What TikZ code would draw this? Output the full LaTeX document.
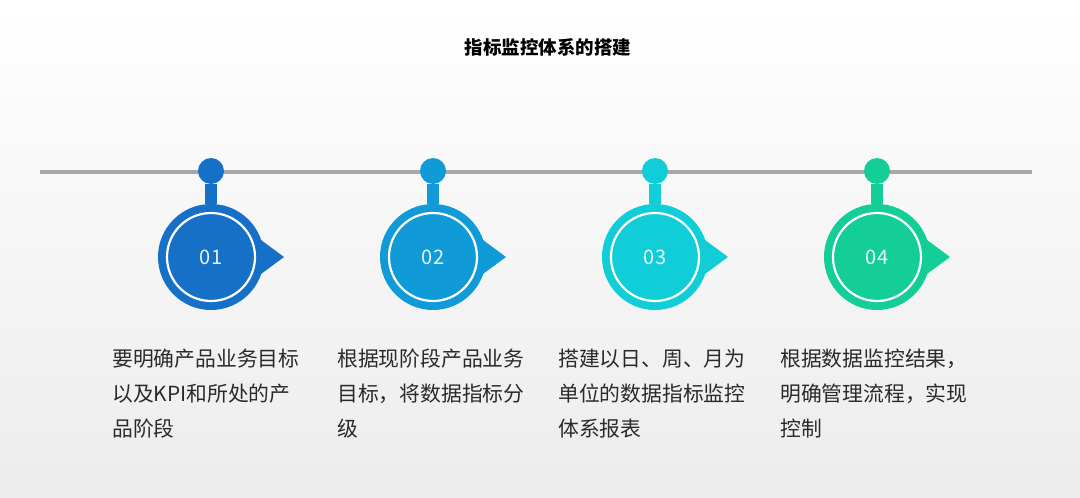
\documentclass[tikz,border=0pt]{standalone}
\usepackage{fontspec}
\setmainfont{Noto Sans CJK SC}
\usetikzlibrary{calc}
\definecolor{cA}{HTML}{1670C8}
\definecolor{cB}{HTML}{109BD8}
\definecolor{cC}{HTML}{10CDD8}
\definecolor{cD}{HTML}{13CE96}
\definecolor{linegray}{HTML}{A8A8A8}
\definecolor{bgbottom}{HTML}{ECECEC}
\definecolor{txt}{HTML}{2A2A2A}
\tikzset{
  dotnode/.style={circle,minimum size=26pt,inner sep=0pt},
  bigcircle/.style={circle,minimum size=106pt,inner sep=0pt},
  ringnode/.style={circle,draw=white,line width=2.2pt,minimum size=88pt,inner sep=0pt,
    text=white,text opacity=0.9,font=\fontsize{20}{20}\selectfont},
  stemline/.style={line width=12pt},
  desc/.style={anchor=north west,align=left,inner sep=0pt,text=txt,
    font=\fontsize{20.8}{35}\selectfont},
  titlenode/.style={font=\fontsize{18.5}{18.5}\selectfont\bfseries,text=black}
}
\newcommand{\stepitem}[5]{%
  \node[dotnode,fill=#2] (d#1) at (#3,171) {};
  \node[bigcircle,fill=#2] (c#1) at (#3,257) {};
  \draw[stemline,#2] (d#1) -- (c#1);
  \fill[#2] ($(c#1.center)+(50,-17)$) -- ($(c#1.center)+(73,0)$) -- ($(c#1.center)+(50,17)$) -- cycle;
  \node[ringnode] (r#1) at (c#1) {#4};
}
\begin{document}
\begin{tikzpicture}[x=1pt,y=-1pt]
\shade[top color=white,bottom color=bgbottom] (0,0) rectangle (1080,498);
\useasboundingbox (0,0) rectangle (1080,498);
\node[titlenode] (title) at (548,47) {指标监控体系的搭建};
\coordinate (lineL) at (40,172);
\coordinate (lineR) at (1032,172);
\draw[line width=4pt,linegray] (lineL) -- (lineR);
\stepitem{1}{cA}{211}{01}{}
\stepitem{2}{cB}{433}{02}{}
\stepitem{3}{cC}{655}{03}{}
\stepitem{4}{cD}{877}{04}{}
\node[desc] (t1) at (112,349) {要明确产品业务目标\\以及KPI和所处的产\\品阶段};
\node[desc] (t2) at (337,349) {根据现阶段产品业务\\目标，将数据指标分\\级};
\node[desc] (t3) at (558,349) {搭建以日、周、月为\\单位的数据指标监控\\体系报表};
\node[desc] (t4) at (780,349) {根据数据监控结果，\\明确管理流程，实现\\控制};
\end{tikzpicture}
\end{document}
